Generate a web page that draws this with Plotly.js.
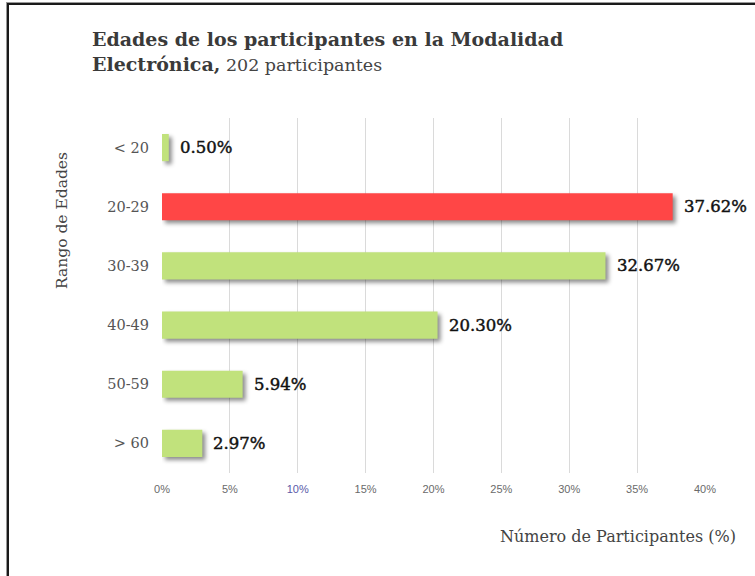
<!DOCTYPE html>
<html>
<head>
<meta charset="utf-8">
<script src="https://cdn.plot.ly/plotly-3.0.1.min.js"></script>
<style>
  html, body { margin: 0; padding: 0; background: #fff; }
  #wrap { position: relative; width: 755px; height: 576px; overflow: hidden; }
  #chart { position: absolute; left: 0; top: 0; width: 755px; height: 576px; }
  #frame { position: absolute; left: 7px; top: 3px; width: 800px; height: 700px;
           border-left: 2px solid #1a1a1a; border-top: 2px solid #1a1a1a;
           box-shadow: -1px -1px 0 #999; pointer-events: none; }
  .barlayer .point path { filter: drop-shadow(3px 3px 2px rgba(0,0,0,0.45)); }
  .annotation:not([data-index="6"]):not([data-index="7"]) text.annotation-text { stroke: #111; stroke-width: 0.45px; }
</style>
</head>
<body>
<div id="wrap">
  <div id="chart"></div>
  <div id="frame"></div>
</div>
<script>
// ---- data ----
const categories = ["< 20", "20-29", "30-39", "40-49", "50-59", "> 60"];
const percentages = [0.50, 37.62, 32.67, 20.30, 5.94, 2.97];
const labels = ["0.50%", "37.62%", "32.67%", "20.30%", "5.94%", "2.97%"];
const highlightIndex = 1;
const tickValues = [0, 5, 10, 15, 20, 25, 30, 35, 40];
const tickLabels = ["0%", "5%", "10%", "15%", "20%", "25%", "30%", "35%", "40%"];
const highlightedTick = "10%";

const green = "#c1e27c";
const red = "#ff4646";
const barColors = categories.map((c, i) => i === highlightIndex ? red : green);

const tickText = tickLabels.map(t => t === highlightedTick
  ? '<span style="color:#5a5aa8">' + t + '</span>' : t);

const serif = "DejaVu Serif";

const trace = {
  type: "bar",
  orientation: "h",
  x: percentages,
  y: categories,
  marker: { color: barColors, line: { width: 0 } },
  hoverinfo: "none",
  width: 0.46
};

const valueAnnotations = categories.map((c, i) => ({
  x: percentages[i], y: c, xref: "x", yref: "y",
  text: labels[i], showarrow: false,
  xanchor: "left", yanchor: "middle", xshift: 9,
  font: { family: serif, size: 16.5, color: "#111" }
}));

const layout = {
  width: 755, height: 576,
  margin: { l: 162, r: 50, t: 118, b: 103 },
  paper_bgcolor: "#fff", plot_bgcolor: "#fff",
  showlegend: false,
  title: {
    text: "<b>Edades de los participantes en la Modalidad<br>Electrónica,</b><span style='font-size:17.5px;color:#444;font-weight:normal'> 202 participantes</span>",
    xref: "container", yref: "container",
    x: 92 / 755, xanchor: "left",
    y: 1 - 46 / 576, yanchor: "top",
    font: { family: serif, size: 19, color: "#3a3a3a" }
  },
  xaxis: {
    range: [0, 40],
    tickvals: tickValues,
    ticktext: tickText,
    showgrid: true, gridcolor: "#dadada", gridwidth: 1,
    zeroline: false, showline: false, ticks: "",
    tickfont: { family: "Liberation Sans", size: 11, color: "#6a6a6a" },
    ticklabelstandoff: 8,
    fixedrange: true
  },
  yaxis: {
    type: "category",
    categoryorder: "array",
    categoryarray: categories.slice().reverse(),
    showgrid: false, zeroline: false, showline: false, ticks: "",
    ticklabelstandoff: 12,
    tickfont: { family: serif, size: 14.5, color: "#555" },
    fixedrange: true
  },
  annotations: valueAnnotations.concat([
    {
      text: "Rango de Edades", textangle: -90, showarrow: false,
      xref: "paper", yref: "paper",
      x: (62 - 162) / 543, y: (473 - 221) / 355,
      xanchor: "center", yanchor: "middle",
      font: { family: serif, size: 15.5, color: "#444" }
    },
    {
      text: "Número de Participantes (%)", showarrow: false,
      xref: "paper", yref: "paper",
      x: (738 - 162) / 543, y: -(536 - 473) / 355,
      xanchor: "right", yanchor: "middle",
      font: { family: serif, size: 16, color: "#444" }
    }
  ])
};

Plotly.newPlot("chart", [trace], layout, { displayModeBar: false, staticPlot: true });
</script>
</body>
</html>
